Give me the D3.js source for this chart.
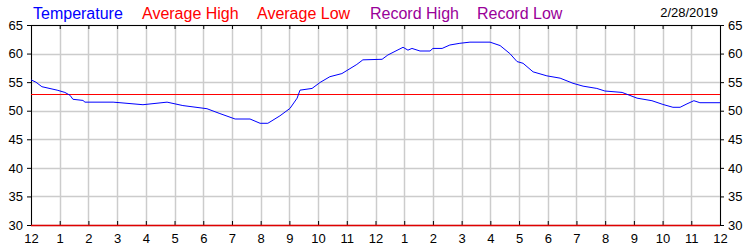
<html>
<head>
<script src="https://d3js.org/d3.v7.min.js"></script>
<style>
  body { margin: 0; background: #fff; }
  text { font-family: "Liberation Sans", Arial, sans-serif; }
</style>
</head>
<body>
<div id="chart"></div>
<script>
// temperature readings (hours after midnight, deg F)
var hours = [0, 0.17, 0.38, 0.91, 1.18, 1.36, 1.46, 1.81, 1.88, 2.86, 3.10, 3.90, 4.74, 5.29, 6.13, 6.58,
  7.11, 7.63, 7.98, 8.25, 8.67, 9.02, 9.27, 9.37, 9.79, 10.07, 10.41, 10.83, 11.35, 11.56, 12.23,
  12.43, 12.96, 13.13, 13.27, 13.55, 13.90, 14.00, 14.32, 14.59, 14.94, 15.29, 15.99, 16.34, 16.68,
  16.93, 17.14, 17.49, 17.97, 18.43, 18.88, 19.23, 19.71, 19.99, 20.59, 21.11, 21.63, 22.01, 22.36,
  22.61, 22.85, 23.09, 23.30, 24.0];
var temps = [55.4, 55.0, 54.2, 53.6, 53.2, 52.7, 52.0, 51.8, 51.5, 51.5, 51.4, 51.05, 51.5, 50.9, 50.35, 49.5,
  48.55, 48.55, 47.8, 47.8, 49.1, 50.4, 52.2, 53.6, 53.9, 54.95, 55.95, 56.5, 58.1, 58.9, 59.0,
  59.75, 61.1, 60.6, 60.9, 60.45, 60.45, 60.9, 60.9, 61.5, 61.8, 62.0, 62.0, 61.4, 60.0,
  58.6, 58.3, 56.8, 56.1, 55.7, 54.8, 54.3, 53.9, 53.45, 53.2, 52.2, 51.75, 51.1, 50.6,
  50.6, 51.2, 51.75, 51.4, 51.4];
var avgHigh = 53;
var avgLow = 30;
var hourTicks = d3.range(0, 25);
var hourLabels = ["12","1","2","3","4","5","6","7","8","9","10","11","12","1","2","3","4","5","6","7","8","9","10","11","12"];
var tempTicks = [30, 35, 40, 45, 50, 55, 60, 65];
var legendNames = ["Temperature", "Average High", "Average Low", "Record High", "Record Low"];
var legendColors = ["#0000ff", "#ff0000", "#ff0000", "#990099", "#990099"];
var legendX = [33, 142, 257, 370, 477];
var dateLabel = "2/28/2019";

var width = 750, height = 250;
var mLeft = 31, mRight = 720, mTop = 25, mBottom = 225;

var svg = d3.select("#chart").append("svg")
  .attr("width", width)
  .attr("height", height);

var x = d3.scaleLinear().domain([0, 24]).range([mLeft, mRight]);
var y = d3.scaleLinear().domain([30, 65]).range([mBottom, mTop]);

// grid
svg.append("g").selectAll("line").data(hourTicks).enter().append("line")
  .attr("x1", function(d){ return Math.round(x(d)) + 0.5; })
  .attr("x2", function(d){ return Math.round(x(d)) + 0.5; })
  .attr("y1", mTop).attr("y2", mBottom)
  .attr("stroke", "#cccccc").attr("stroke-width", 1.5);
svg.append("g").selectAll("line").data(tempTicks).enter().append("line")
  .attr("y1", function(d){ return Math.round(y(d)) + 0.5; })
  .attr("y2", function(d){ return Math.round(y(d)) + 0.5; })
  .attr("x1", mLeft).attr("x2", mRight)
  .attr("stroke", "#cccccc").attr("stroke-width", 1.5);

// axes
svg.append("g").attr("transform", "translate(" + mLeft + ",0)")
  .call(d3.axisLeft(y).tickValues(tempTicks).tickSize(4).tickPadding(4));
svg.append("g").attr("transform", "translate(" + mRight + ",0)")
  .call(d3.axisRight(y).tickValues(tempTicks).tickSize(4).tickPadding(4));
svg.append("g").attr("transform", "translate(0," + mBottom + ")")
  .call(d3.axisBottom(x).tickValues(hourTicks).tickSize(-4).tickPadding(9)
    .tickFormat(function(d, i){ return hourLabels[i]; }));
svg.append("g").attr("transform", "translate(0," + mTop + ")")
  .call(d3.axisTop(x).tickValues(hourTicks).tickSize(-4).tickFormat(""));

svg.selectAll(".domain").remove();
svg.selectAll(".tick line").attr("stroke", "#000");
svg.selectAll(".tick text").attr("fill", "#000").style("font-size", "13px")
  .style("font-family", "'Liberation Sans', Arial, sans-serif");

// frame
svg.append("line").attr("x1", mLeft + 0.5).attr("x2", mLeft + 0.5).attr("y1", mTop).attr("y2", mBottom).attr("stroke", "#000");
svg.append("line").attr("x1", mRight + 0.5).attr("x2", mRight + 0.5).attr("y1", mTop).attr("y2", mBottom).attr("stroke", "#000");
svg.append("line").attr("x1", mLeft).attr("x2", mRight).attr("y1", mTop + 0.5).attr("y2", mTop + 0.5).attr("stroke", "#000");

// average lines
svg.append("line").attr("x1", mLeft).attr("x2", mRight)
  .attr("y1", Math.round(y(avgHigh)) + 0.5).attr("y2", Math.round(y(avgHigh)) + 0.5)
  .attr("stroke", "#ff0000").attr("stroke-width", 1.2);
svg.append("line").attr("x1", mLeft).attr("x2", mRight)
  .attr("y1", Math.round(y(avgLow)) + 0.5).attr("y2", Math.round(y(avgLow)) + 0.5)
  .attr("stroke", "#e00000").attr("stroke-width", 1.5);

// temperature line
var line = d3.line()
  .x(function(d, i){ return x(hours[i]); })
  .y(function(d){ return y(d); });
svg.append("path").datum(temps)
  .attr("d", line)
  .attr("fill", "none")
  .attr("stroke", "#0000ff")
  .attr("stroke-width", 1);

// legend
svg.append("g").selectAll("text").data(legendNames).enter().append("text")
  .attr("x", function(d, i){ return legendX[i]; })
  .attr("y", 19)
  .attr("fill", function(d, i){ return legendColors[i]; })
  .style("font-size", "16px")
  .text(function(d){ return d; });

svg.append("text").attr("x", 718).attr("y", 17)
  .attr("text-anchor", "end")
  .style("font-size", "13px")
  .text(dateLabel);
</script>
</body>
</html>
